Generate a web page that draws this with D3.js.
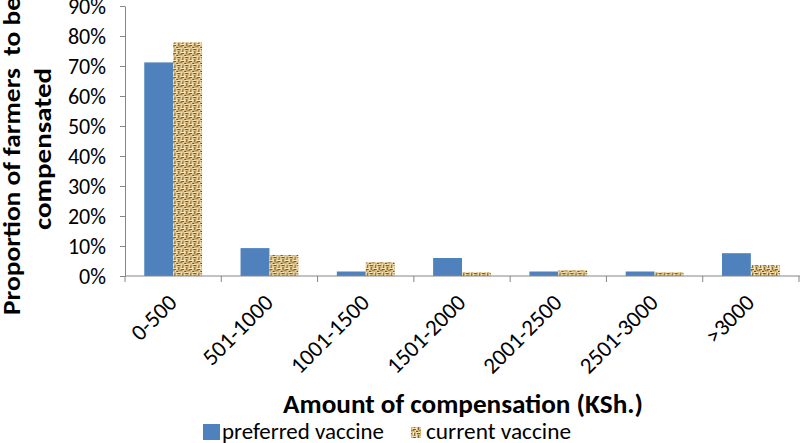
<!DOCTYPE html>
<html><head><meta charset="utf-8">
<script src="https://cdn.jsdelivr.net/npm/d3@7"></script>
<style>body{margin:0;background:#fff}svg{display:block}text{font-family:Carlito,Lato,sans-serif}</style>
</head><body><svg id="c" width="800" height="443"></svg>
<script>
const categories = ["0-500","501-1000","1001-1500","1501-2000","2001-2500","2501-3000",">3000"];
const preferred = [71.2, 9.3, 1.5, 6.0, 1.5, 1.5, 7.6];
const current   = [77.9, 7.0, 4.6, 1.3, 1.9, 1.3, 3.6];
const seriesNames = ["preferred vaccine","current vaccine"];
const yTicks = [0,10,20,30,40,50,60,70,80,90];

const svg = d3.select("#c");
const defs = svg.append("defs");
const pat = defs.append("pattern").attr("id","weave").attr("patternUnits","userSpaceOnUse")
  .attr("width",8).attr("height",8);
pat.append("rect").attr("width",8).attr("height",8).attr("fill","#d4b679");
[[0,0,4,1,"#f4e4b8"],[4,4,4,1,"#f4e4b8"],[0,2,1,4,"#f6e8c2"],[5,0,1,3,"#f6e8c2"],
 [1,1,3,1,"#7d5a26"],[5,5,3,1,"#7d5a26"],[2,3,1,3,"#8a6630"],[6,1,1,3,"#8a6630"],
 [3,6,3,1,"#a8844a"],[0,7,2,1,"#6e4f20"],[7,6,1,2,"#efdcaa"]].forEach(r=>{
  pat.append("rect").attr("x",r[0]).attr("y",r[1]).attr("width",r[2]).attr("height",r[3]).attr("fill",r[4]);
});

const x0 = 125, x1 = 799, yTop = 6, yBot = 276;
const x = d3.scaleBand().domain(categories).range([x0,x1]).paddingInner(0.4).paddingOuter(0.2);
const xs = d3.scaleBand().domain(seriesNames).range([0,x.bandwidth()]);
const y = d3.scaleLinear().domain([0,90]).range([yBot,yTop]);
const colors = {"preferred vaccine":"#4f81bd","current vaccine":"url(#weave)"};

// y axis
const ya = svg.append("g").attr("transform",`translate(${x0},0)`)
  .call(d3.axisLeft(y).tickValues(yTicks).tickFormat(d=>d+"%").tickSize(5).tickSizeOuter(0));
ya.select(".domain").attr("stroke","#868686");
ya.selectAll(".tick line").attr("stroke","#868686");
ya.selectAll(".tick text").attr("font-size",22).attr("fill","#000").attr("x",-19).attr("dy","0.36em");

// bars
const data = categories.map((c,i)=>({c, vals:[{s:seriesNames[0],v:preferred[i]},{s:seriesNames[1],v:current[i]}]}));
const g = svg.append("g");
g.selectAll("g").data(data).join("g").attr("transform",d=>`translate(${x(d.c)},0)`)
  .selectAll("rect").data(d=>d.vals).join("rect")
  .attr("x",d=>xs(d.s)).attr("width",xs.bandwidth())
  .attr("y",d=>y(d.v)).attr("height",d=>yBot-y(d.v))
  .attr("fill",d=>colors[d.s]);

// x axis
const step = (x1-x0)/categories.length;
const xa = svg.append("g").attr("transform",`translate(0,${yBot})`);
xa.append("line").attr("x1",x0).attr("x2",x1+1).attr("stroke","#868686");
d3.range(categories.length+1).forEach(i=>{
  xa.append("line").attr("x1",x0+i*step).attr("x2",x0+i*step).attr("y1",0).attr("y2",6).attr("stroke","#868686");
});
xa.selectAll("text.xl").data(categories).join("text").attr("class","xl")
  .attr("transform",d=>`translate(${x(d)+x.bandwidth()/2+5},${28}) rotate(-45)`)
  .attr("text-anchor","end").attr("font-size",23).attr("fill","#000").text(d=>d);

// axis titles
svg.append("text").attr("x",283).attr("y",413)
  .attr("font-size",26).attr("font-weight","bold")
  .attr("textLength",360).attr("lengthAdjust","spacingAndGlyphs")
  .text("Amount of compensation (KSh.)");
const yt = svg.append("text").attr("transform","translate(0,0) rotate(-90)")
  .attr("font-size",25).attr("font-weight","bold").attr("xml:space","preserve");
yt.append("tspan").attr("x",-315).attr("y",20).attr("textLength",318).attr("lengthAdjust","spacingAndGlyphs")
  .text("Proportion of farmers  to be");
yt.append("tspan").attr("x",-230).attr("y",51).attr("textLength",162).attr("lengthAdjust","spacingAndGlyphs")
  .text("compensated");

// legend
const leg = svg.append("g");
const lx = [203, 411];
const lw = [162, 145];
seriesNames.forEach((s,i)=>{
  if(i===0) leg.append("rect").attr("x",lx[i]).attr("y",424).attr("width",17).attr("height",16).attr("fill",colors[s]);
  else leg.append("rect").attr("x",lx[i]).attr("y",427).attr("width",10).attr("height",11).attr("fill",colors[s]);
  leg.append("text").attr("x",lx[i]+(i===0?19:15)).attr("y",439).attr("font-size",22)
    .attr("textLength",lw[i]).attr("lengthAdjust","spacingAndGlyphs").text(s);
});
</script></body></html>
